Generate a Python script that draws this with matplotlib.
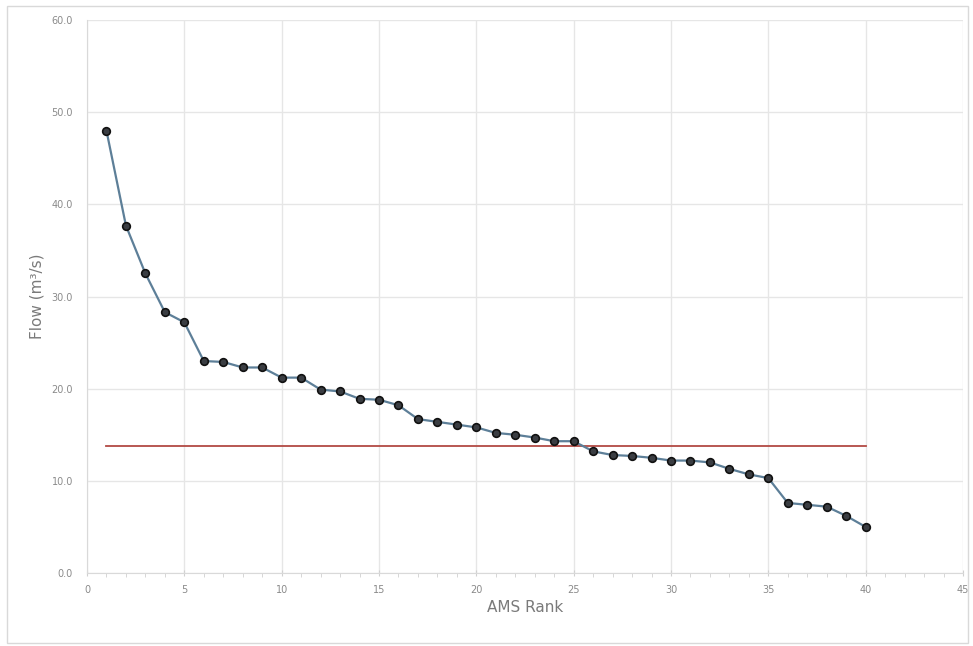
import matplotlib.pyplot as plt
from matplotlib.patches import Rectangle

# AMS ranks and flows
rank = list(range(1, 41))
flow = [48.0, 37.7, 32.5, 28.3, 27.2, 23.0, 22.9, 22.3, 22.3, 21.2,
        21.2, 19.9, 19.7, 18.9, 18.8, 18.2, 16.7, 16.4, 16.1, 15.8,
        15.2, 15.0, 14.7, 14.3, 14.3, 13.2, 12.8, 12.7, 12.5, 12.2,
        12.2, 12.0, 11.3, 10.7, 10.3, 7.6, 7.4, 7.2, 6.2, 5.0]
threshold = 13.8
x_ticks = [0, 5, 10, 15, 20, 25, 30, 35, 40, 45]
y_ticks = [0, 10, 20, 30, 40, 50, 60]

fig = plt.figure(figsize=(9.73, 6.46), dpi=100)
fig.patches.append(Rectangle((0.007, 0.005), 0.988, 0.985, transform=fig.transFigure,
                             fill=False, edgecolor="#d9d9d9", linewidth=1))
ax = fig.add_axes([0.0894, 0.113, 0.9003, 0.856])

ax.plot([rank[0], rank[-1]], [threshold, threshold], color="#b24a44", linewidth=1.3, zorder=2)
ax.plot(rank, flow, color="#5d7f98", linewidth=1.6, marker="o", markersize=5.5,
        markerfacecolor="#3a3d42", markeredgecolor="#111111", markeredgewidth=1.2, zorder=3)

ax.set_xlim(0, 45)
ax.set_ylim(0, 60)
ax.set_xticks(x_ticks)
ax.set_yticks(y_ticks)
ax.set_yticklabels([f"{v:.1f}" for v in y_ticks])
ax.set_xticks(range(0, 46), minor=True)
ax.grid(True, which="major", color="#e6e6e6", linewidth=1)
ax.set_axisbelow(True)

for side in ["top", "right"]:
    ax.spines[side].set_visible(False)
for side in ["left", "bottom"]:
    ax.spines[side].set_color("#d9d9d9")

ax.tick_params(axis="both", which="major", labelsize=7, colors="#d0d0d0", labelcolor="#8a8a8a", length=4)
ax.tick_params(axis="x", which="minor", colors="#d0d0d0", length=3)
ax.tick_params(axis="y", length=0, pad=10)
ax.tick_params(axis="x", direction="inout", length=5, pad=6)

ax.set_xlabel("AMS Rank", fontsize=11, color="#7a7a7a", labelpad=4)
ax.set_ylabel("Flow (m³/s)", fontsize=11, color="#7a7a7a", labelpad=5)

fig.savefig("out.png", dpi=100)
